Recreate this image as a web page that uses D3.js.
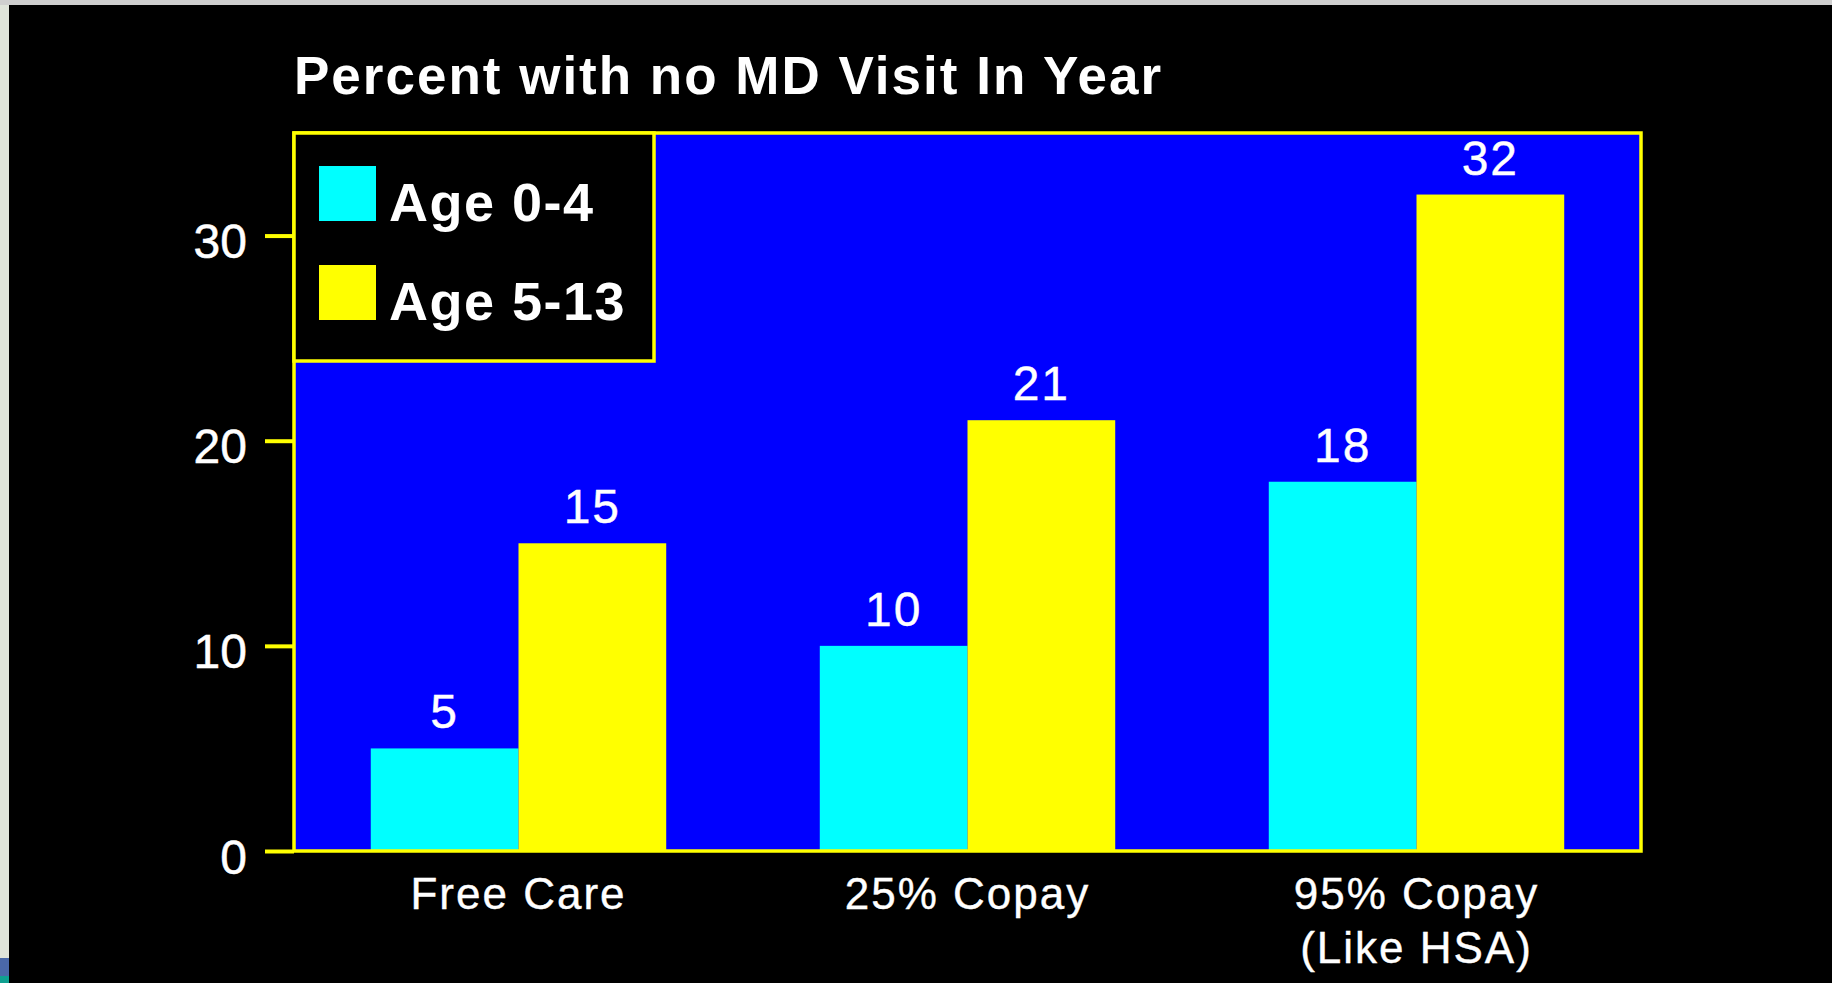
<!DOCTYPE html>
<html>
<head>
<meta charset="utf-8">
<script src="https://cdn.jsdelivr.net/npm/d3@7"></script>
<style>
  html, body { margin: 0; padding: 0; background: #d0d0d0; overflow: hidden; }
  svg { display: block; }
</style>
</head>
<body>
<svg id="chart"></svg>
<script>
// Data
const categories = ["Free Care", "25% Copay", "95% Copay\n(Like HSA)"];
const seriesNames = ["Age 0-4", "Age 5-13"];
const age0to4 = [5, 10, 18];
const age5to13 = [15, 21, 32];
const yTicks = [0, 10, 20, 30];
const title = "Percent with no MD Visit In Year";

const seriesColors = ["#00ffff", "#ffff00"];

const width = 1832, height = 983;
const svg = d3.select("#chart").attr("width", width).attr("height", height);

// Screen frame (grey edges of the original screenshot)
svg.append("rect").attr("x", 0).attr("y", 0).attr("width", width).attr("height", height).attr("fill", "#cfcfcf");
svg.append("rect").attr("x", 0).attr("y", 5).attr("width", 9).attr("height", height).attr("fill", "#dfe4da");
svg.append("rect").attr("x", 0).attr("y", 958).attr("width", 9).attr("height", 18).attr("fill", "#4a68a8");
svg.append("rect").attr("x", 0).attr("y", 976).attr("width", 9).attr("height", 7).attr("fill", "#10a090");
svg.append("rect").attr("x", 9).attr("y", 5).attr("width", width - 9).attr("height", height - 5).attr("fill", "#000");

// Plot area
const plot = { left: 294, right: 1641, top: 133, bottom: 851 };

const x0 = d3.scaleBand()
    .domain(categories)
    .range([plot.left, plot.right])
    .paddingInner(0.342)
    .paddingOuter(0.171);

const x1 = d3.scaleBand()
    .domain(seriesNames)
    .range([0, x0.bandwidth()])
    .padding(0);

const y = d3.scaleLinear()
    .domain([0, 35])
    .range([plot.bottom, plot.top]);

const color = d3.scaleOrdinal().domain(seriesNames).range(seriesColors);

// Blue background
svg.append("rect")
    .attr("x", plot.left).attr("y", plot.top)
    .attr("width", plot.right - plot.left).attr("height", plot.bottom - plot.top)
    .attr("fill", "#0000ff");

// Title
svg.append("text")
    .attr("x", plot.left)
    .attr("y", 94)
    .attr("fill", "#fff")
    .style("font-family", "'Liberation Sans', Arial, sans-serif")
    .style("font-weight", "bold")
    .style("font-size", "53px")
    .style("letter-spacing", "2px")
    .text(title);

// Bars
const rows = categories.map((c, i) => ({
    category: c,
    values: [
        { series: seriesNames[0], value: age0to4[i] },
        { series: seriesNames[1], value: age5to13[i] }
    ]
}));

const groups = svg.append("g").selectAll("g")
    .data(rows)
    .enter()
    .append("g")
    .attr("transform", d => `translate(${x0(d.category)},0)`);

groups.selectAll("rect")
    .data(d => d.values)
    .enter()
    .append("rect")
    .attr("x", d => x1(d.series))
    .attr("y", d => y(d.value))
    .attr("width", x1.bandwidth())
    .attr("height", d => y(0) - y(d.value))
    .attr("fill", d => color(d.series));

// Value labels
groups.selectAll("text")
    .data(d => d.values)
    .enter()
    .append("text")
    .attr("x", d => x1(d.series) + x1.bandwidth() / 2)
    .attr("y", d => y(d.value) - 20)
    .attr("text-anchor", "middle")
    .attr("fill", "#fff")
    .attr("stroke", "#fff")
    .attr("stroke-width", 0.4)
    .style("font-family", "'Liberation Sans', Arial, sans-serif")
    .style("font-size", "48px")
    .style("letter-spacing", "2px")
    .text(d => d.value);

// Y axis (ticks + labels)
const yAxis = d3.axisLeft(y)
    .tickValues(yTicks)
    .tickSize(29)
    .tickPadding(18)
    .tickFormat(d3.format("d"));

const yAxisG = svg.append("g")
    .attr("transform", `translate(${plot.left},0)`)
    .call(yAxis);

yAxisG.select(".domain").remove();
yAxisG.selectAll(".tick line")
    .attr("stroke", "#ffff00")
    .attr("stroke-width", 4);
yAxisG.selectAll(".tick text")
    .attr("fill", "#fff")
    .attr("stroke", "#fff")
    .attr("stroke-width", 0.5)
    .attr("dy", null)
    .attr("y", 22)
    .style("font-family", "'Liberation Sans', Arial, sans-serif")
    .style("font-size", "48px");

// Frame around plot
svg.append("rect")
    .attr("x", plot.left).attr("y", plot.top)
    .attr("width", plot.right - plot.left).attr("height", plot.bottom - plot.top)
    .attr("fill", "none")
    .attr("stroke", "#ffff00")
    .attr("stroke-width", 3.5);

// X axis labels
const xLabels = svg.append("g").selectAll("text")
    .data(categories)
    .enter()
    .append("text")
    .attr("x", d => x0(d) + x0.bandwidth() / 2)
    .attr("y", 909)
    .attr("text-anchor", "middle")
    .attr("fill", "#fff")
    .attr("stroke", "#fff")
    .attr("stroke-width", 0.4)
    .style("font-family", "'Liberation Sans', Arial, sans-serif")
    .style("font-size", "44px")
    .style("letter-spacing", "2px");

xLabels.selectAll("tspan")
    .data(d => d.split("\n"))
    .enter()
    .append("tspan")
    .attr("x", function () { return d3.select(this.parentNode).attr("x"); })
    .attr("dy", (d, i) => i === 0 ? 0 : 54)
    .text(d => d);

// Legend
const legend = svg.append("g");
legend.append("rect")
    .attr("x", plot.left).attr("y", plot.top)
    .attr("width", 360).attr("height", 228)
    .attr("fill", "#000")
    .attr("stroke", "#ffff00")
    .attr("stroke-width", 3.5);

const legendItems = legend.selectAll("g")
    .data(seriesNames)
    .enter()
    .append("g")
    .attr("transform", (d, i) => `translate(${plot.left + 25}, ${166 + i * 99})`);

legendItems.append("rect")
    .attr("width", 57)
    .attr("height", 55)
    .attr("fill", d => color(d));

legendItems.append("text")
    .attr("x", 70)
    .attr("y", 55)
    .attr("fill", "#fff")
    .style("font-family", "'Liberation Sans', Arial, sans-serif")
    .style("font-weight", "bold")
    .style("font-size", "54px")
    .style("letter-spacing", "1.5px")
    .text(d => d);
</script>
</body>
</html>
